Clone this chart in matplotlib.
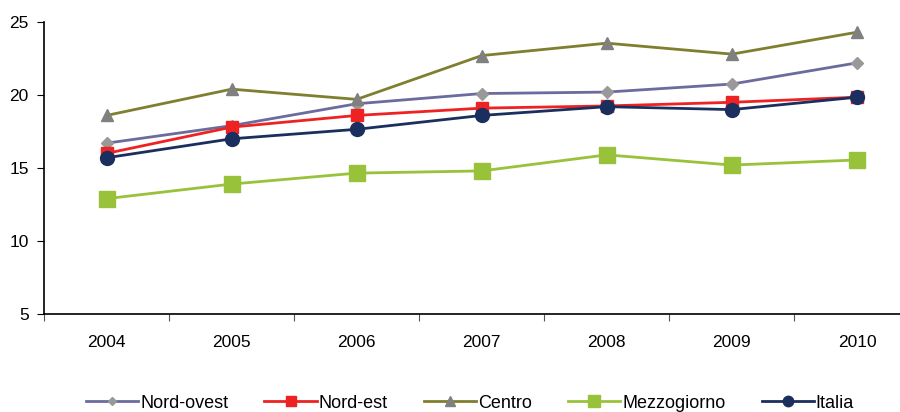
import matplotlib.pyplot as plt
import numpy as np

plt.rcParams['font.family'] = ['Liberation Sans', 'DejaVu Sans']

# Data
years = ['2004', '2005', '2006', '2007', '2008', '2009', '2010']
nord_ovest = [16.7, 17.9, 19.4, 20.1, 20.2, 20.75, 22.2]
nord_est = [16.0, 17.8, 18.6, 19.1, 19.25, 19.5, 19.85]
centro = [18.6, 20.4, 19.7, 22.7, 23.55, 22.8, 24.3]
mezzogiorno = [12.9, 13.9, 14.65, 14.8, 15.9, 15.2, 15.55]
italia = [15.7, 17.0, 17.65, 18.6, 19.2, 19.0, 19.85]

fig = plt.figure(figsize=(9, 4.12), dpi=100)
# axes runs a bit past the right edge, as in the original crop
ax = fig.add_axes([44 / 900, 98 / 412, 875.5 / 900, 292 / 412])

x = np.arange(len(years))
ax.plot(x, nord_ovest, color='#6b6b9e', lw=2, marker='D', ms=6,
        mfc='#999999', mec='#999999', label='Nord-ovest')
ax.plot(x, nord_est, color='#ee2222', lw=2, marker='s', ms=9,
        mfc='#ee2222', mec='#ee2222', label='Nord-est')
ax.plot(x, centro, color='#7f7f2f', lw=2, marker='^', ms=9,
        mfc='#808080', mec='#808080', label='Centro')
ax.plot(x, mezzogiorno, color='#99c23b', lw=2, marker='s', ms=11,
        mfc='#99c23b', mec='#99c23b', label='Mezzogiorno')
ax.plot(x, italia, color='#1b2f5e', lw=2, marker='o', ms=10,
        mfc='#1b2f5e', mec='#1b2f5e', label='Italia')

ax.set_xlim(-0.5, len(years) - 0.5)
ax.set_ylim(5, 25)
ax.set_yticks([5, 10, 15, 20, 25])

# ticks between categories, labels centred on categories
ax.set_xticks(np.arange(-0.5, len(years)), minor=False)
ax.set_xticklabels([])
ax.set_xticks(x, minor=True)
ax.set_xticklabels(years, minor=True)
ax.tick_params(axis='x', which='major', length=5, direction='out', color='#555555')
ax.tick_params(axis='x', which='minor', length=0, pad=15, labelsize=12.5)
ax.tick_params(axis='y', length=5, direction='out', labelsize=12.5, pad=6)

for s in ['top', 'right']:
    ax.spines[s].set_visible(False)
ax.spines['left'].set_linewidth(1.2)
ax.spines['bottom'].set_linewidth(1.2)

fig.legend(loc='center', bbox_to_anchor=(470 / 900, 1 - 403 / 412), ncol=5,
           frameon=False, fontsize=13, handlelength=2.9, columnspacing=2.0,
           handletextpad=0.1, markerscale=0.75)

fig.savefig('out.png', dpi=100)
plt.close()
